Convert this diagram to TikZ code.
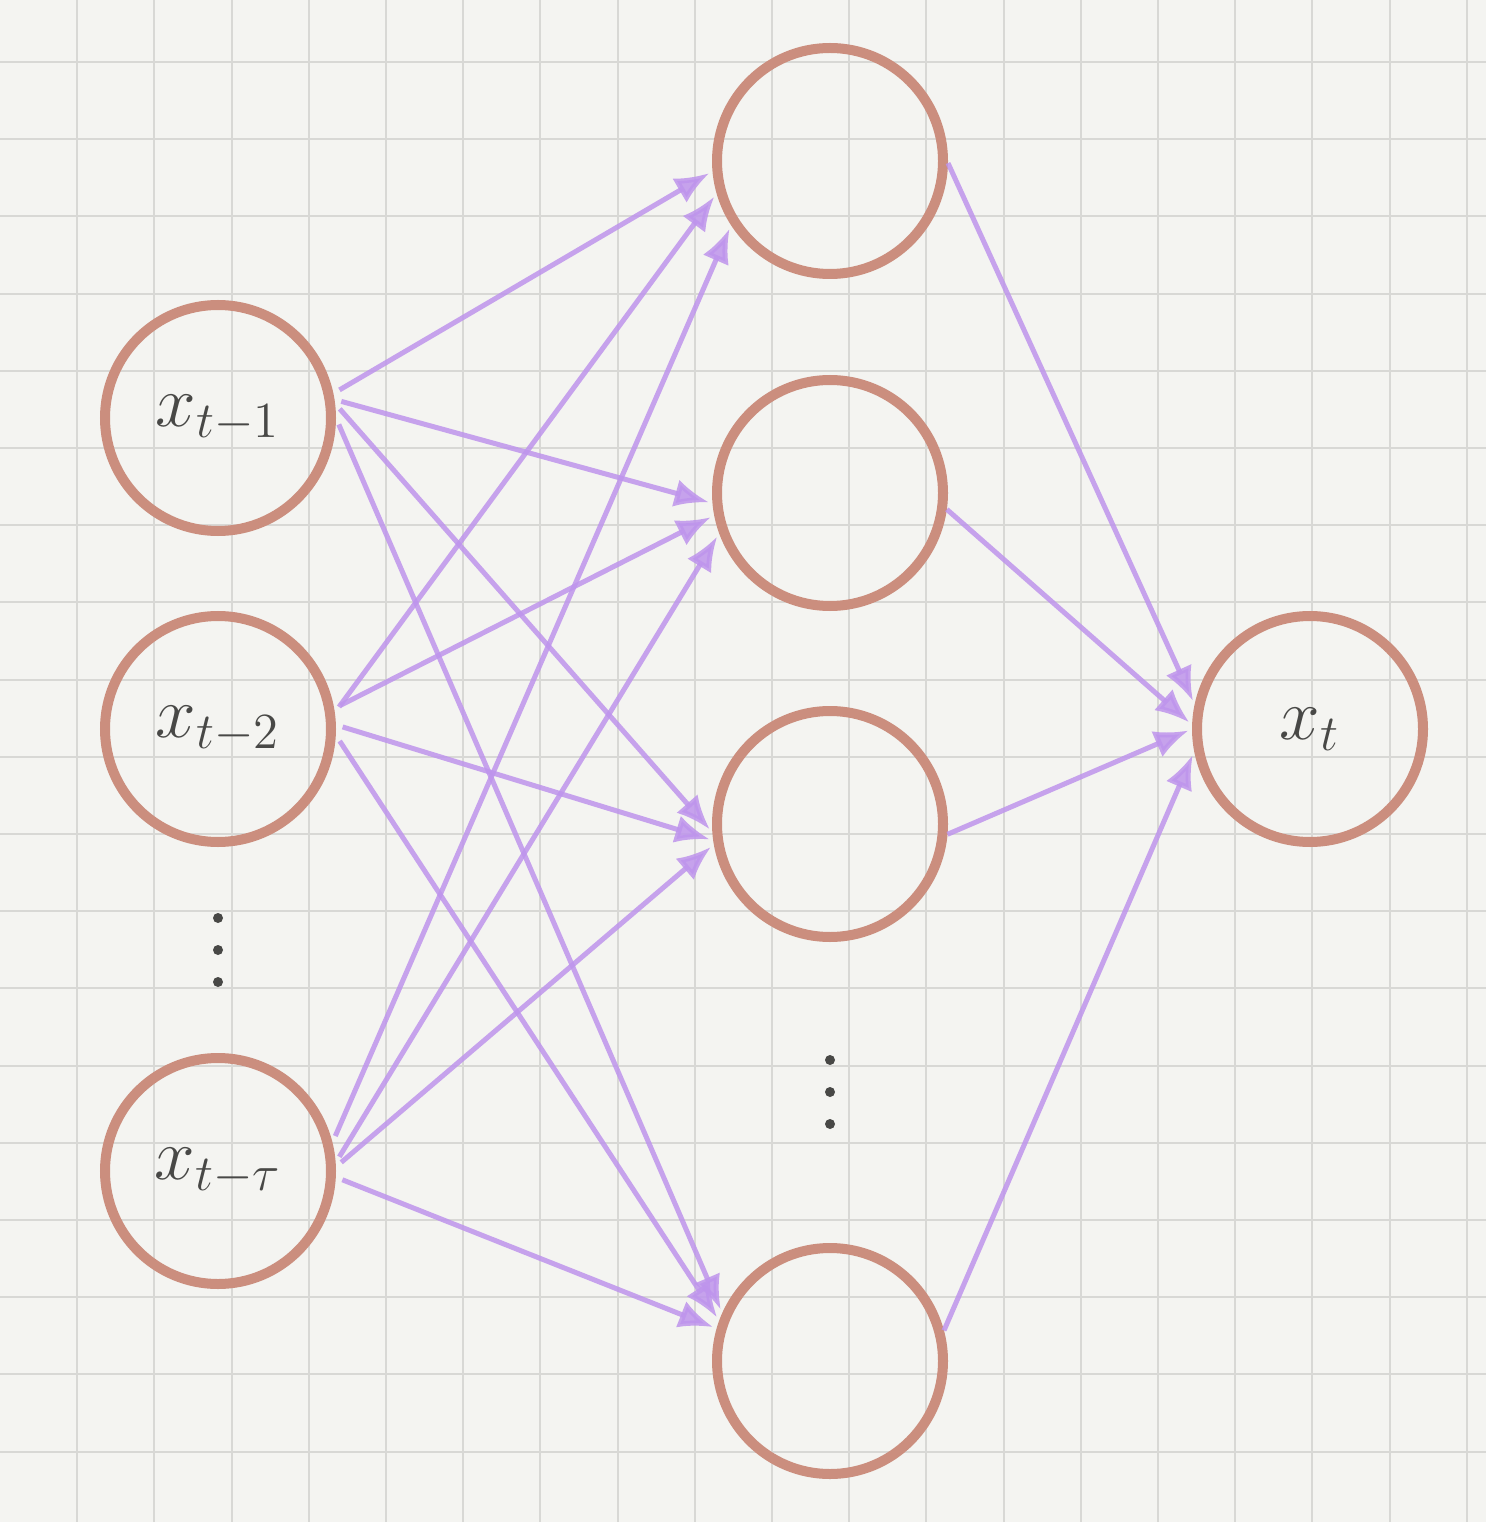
\documentclass[tikz,border=0pt]{standalone}
\usetikzlibrary{arrows.meta}

\definecolor{paper}{RGB}{244,244,241}
\definecolor{gridc}{RGB}{216,216,213}
\definecolor{ringc}{RGB}{203,142,126}
\definecolor{edgec}{RGB}{190,148,236}
\definecolor{inkc}{RGB}{72,72,70}

\tikzset{
  neuron/.style={circle, draw=ringc, line width=0.1cm, minimum size=2.26cm,
    inner sep=0pt, text=inkc, font=\fontsize{20.5}{24}\selectfont},
  edge/.style={draw=edgec, line width=0.05cm, opacity=0.85,
    -{Latex[length=0.34cm,width=0.28cm]}, shorten >=0.04cm},
  dotnode/.style={circle, fill=inkc, inner sep=0pt, minimum size=0.1cm}
}

\begin{document}
\begin{tikzpicture}
  \useasboundingbox (0,0) rectangle (14.86,-15.22);
  \fill[paper] (0,0) rectangle (14.86,-15.22);

  % squared paper
  \foreach \k in {1,...,19} {
    \draw[gridc, line width=0.02cm] (0.772*\k,0) -- (0.772*\k,-15.22);
  }
  \foreach \k in {0,...,19} {
    \draw[gridc, line width=0.02cm] (0,-0.62-0.772*\k) -- (14.86,-0.62-0.772*\k);
  }

  % inputs
  \node[neuron] (in1) at (2.18,-4.18) {$x_{t-1}$};
  \node[neuron] (in2) at (2.18,-7.29) {$x_{t-2}$};
  \node[neuron] (in3) at (2.18,-11.71) {$x_{t-\tau}$};

  % hidden layer
  \node[neuron] (h1) at (8.30,-1.61) {};
  \node[neuron] (h2) at (8.30,-4.93) {};
  \node[neuron] (h3) at (8.30,-8.24) {};
  \node[neuron] (h4) at (8.30,-13.61) {};

  % output
  \node[neuron] (out) at (13.10,-7.29) {$x_t$};

  % vertical dots
  \foreach \k in {0,1,2} {
    \node[dotnode] (vin\k) at (2.18,-9.18-0.32*\k) {};
    \node[dotnode] (vh\k) at (8.30,-10.60-0.32*\k) {};
  }

  % source/angle/target/angle
  \foreach \i/\a/\j/\b in {in1/12/h1/185, in1/9/h2/185, in1/7/h3/184, in1/0/h4/156,
                           in2/8/h1/196, in2/10/h2/191, in2/2/h3/188, in2/-3/h4/160,
                           in3/14/h1/213, in3/4/h2/200, in3/2/h3/190, in3/-3/h4/164} {
    \draw[edge, shorten <=0.07cm] (\i.\a) -- (\j.\b);
  }
  \foreach \j/\a/\b in {h1/-1/168, h2/-8/178, h3/-5/180, h4/15/191} {
    \draw[edge] (\j.\a) -- (out.\b);
  }
\end{tikzpicture}
\end{document}
